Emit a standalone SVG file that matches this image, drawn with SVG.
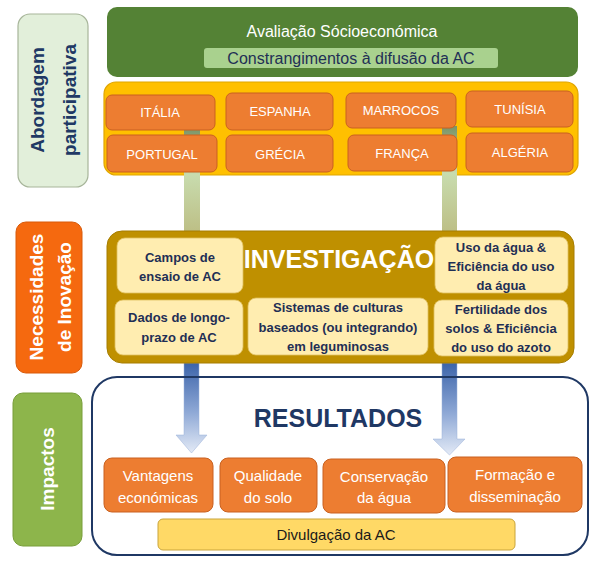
<svg xmlns="http://www.w3.org/2000/svg" width="600" height="566" viewBox="0 0 600 566">
<defs>
<linearGradient id="colG" x1="0" y1="0" x2="0" y2="1">
<stop offset="0" stop-color="#7A9468"/>
<stop offset="0.45" stop-color="#C8DCAE"/>
<stop offset="1" stop-color="#BDBF86"/>
</linearGradient>
<linearGradient id="arrB" x1="0" y1="0" x2="0" y2="1">
<stop offset="0" stop-color="#3C64AA"/>
<stop offset="0.55" stop-color="#8FA9D6"/>
<stop offset="1" stop-color="#E3EAF6"/>
</linearGradient>
<style>
text{font-family:"Liberation Sans","Noto Sans",Arial,sans-serif;text-anchor:middle}
.side{font-weight:bold;font-size:19px}
.cty rect{fill:#ED7D31;stroke:#C96120;stroke-width:1}
.cty text{fill:#fff;font-size:13px}
.inv rect{fill:#FFEDB0;stroke:#E0C060;stroke-width:0.8}
.inv text{fill:#1F2F55;font-size:13px;font-weight:bold}
.res rect{fill:#ED7D31;stroke:#C96120;stroke-width:1}
.res text{fill:#fff;font-size:15px}
</style>
</defs>

<!-- side labels -->
<g id="label-abordagem">
<rect x="18" y="14" width="70" height="173" rx="12" fill="#E2EFDA" stroke="#A7B59A" stroke-width="1.2"/>
<text class="side" fill="#203864" transform="translate(44,100) rotate(-90)">Abordagem</text>
<text class="side" fill="#203864" transform="translate(76,100) rotate(-90)">participativa</text>
</g>
<g id="label-necessidades">
<rect x="16" y="222" width="66" height="151" rx="10" fill="#F5690F" stroke="#D85A0A" stroke-width="1"/>
<text class="side" fill="#fff" transform="translate(43,297) rotate(-90)">Necessidades</text>
<text class="side" fill="#fff" transform="translate(71,297) rotate(-90)">de Inovação</text>
</g>
<g id="label-impactos">
<rect x="13" y="393" width="69" height="153" rx="10" fill="#8DB54B" stroke="#789E3A" stroke-width="1"/>
<text class="side" fill="#fff" transform="translate(54,469) rotate(-90)">Impactos</text>
</g>

<!-- top socio-economic box -->
<g id="avaliacao">
<rect x="107" y="7" width="471" height="70" rx="10" fill="#548235"/>
<text x="342" y="37" fill="#fff" font-size="16">Avaliação Sócioeconómica</text>
<rect x="204" y="48" width="294" height="20" rx="3" fill="#A9D18E"/>
<text x="351" y="64" fill="#1F2F55" font-size="16">Constrangimentos à difusão da AC</text>
</g>

<!-- countries container -->
<g id="paises">
<rect x="104" y="82" width="474" height="93" rx="12" fill="#FFC000" stroke="#E0A500" stroke-width="1.2"/>
</g>

<!-- connectors -->
<g id="connectors">
<rect x="184" y="128" width="16" height="103" fill="url(#colG)"/>
<rect x="442" y="126" width="15" height="105" fill="url(#colG)"/>
<path d="M184,363 H199 V435 H207 L191.5,453 L176,435 H184 Z" fill="url(#arrB)" stroke="#9AB0D8" stroke-width="0.5"/>
<path d="M442,363 H457 V439 H465 L449.5,455 L433,439 H442 Z" fill="url(#arrB)" stroke="#9AB0D8" stroke-width="0.5"/>
</g>

<g id="italia" class="cty"><rect x="106" y="95" width="109" height="35" rx="6"/><text x="160" y="117">ITÁLIA</text></g>
<g id="espanha" class="cty"><rect x="226" y="93" width="107" height="37" rx="6"/><text x="280" y="116">ESPANHA</text></g>
<g id="marrocos" class="cty"><rect x="346" y="93" width="110" height="35" rx="6"/><text x="401" y="115">MARROCOS</text></g>
<g id="tunisia" class="cty"><rect x="466" y="91" width="107" height="36" rx="6"/><text x="520" y="114">TUNÍSIA</text></g>
<g id="portugal" class="cty"><rect x="107" y="135" width="110" height="37" rx="6"/><text x="162" y="159">PORTUGAL</text></g>
<g id="grecia" class="cty"><rect x="226" y="135" width="107" height="37" rx="6"/><text x="280" y="159">GRÉCIA</text></g>
<g id="franca" class="cty"><rect x="348" y="135" width="109" height="36" rx="6"/><text x="402" y="158">FRANÇA</text></g>
<g id="algeria" class="cty"><rect x="466" y="133" width="107" height="39" rx="6"/><text x="520" y="157">ALGÉRIA</text></g>

<!-- investigation -->
<g id="investigacao" class="inv">
<rect x="107" y="231" width="467" height="132" rx="15" style="fill:#BF9000;stroke:#A67D00;stroke-width:1"/>
<text x="339" y="268" style="fill:#fff;font-size:25px;font-weight:bold">INVESTIGAÇÃO</text>
</g>
<g id="campos" class="inv"><rect x="117" y="238" width="126" height="55" rx="8"/><text x="180" y="262">Campos de</text><text x="180" y="281">ensaio de AC</text></g>
<g id="dados" class="inv"><rect x="115" y="300" width="128" height="55" rx="8"/><text x="179" y="322">Dados de longo-</text><text x="179" y="342">prazo de AC</text></g>
<g id="sistemas" class="inv"><rect x="248" y="298" width="180" height="57" rx="8"/><text x="338" y="312">Sistemas de culturas</text><text x="338" y="332">baseados (ou integrando)</text><text x="338" y="351">em leguminosas</text></g>
<g id="uso-agua" class="inv"><rect x="435" y="237" width="133" height="56" rx="8"/><text x="501" y="252">Uso da água &amp;</text><text x="501" y="271">Eficiência do uso</text><text x="501" y="290">da água</text></g>
<g id="fertilidade" class="inv"><rect x="434" y="300" width="134" height="56" rx="8"/><text x="501" y="314">Fertilidade dos</text><text x="501" y="333">solos &amp; Eficiência</text><text x="501" y="352">do uso do azoto</text></g>

<!-- results -->
<g id="resultados">
<rect x="92" y="377" width="496" height="178" rx="25" fill="none" stroke="#1F3864" stroke-width="2"/>
<text x="338" y="427" fill="#1F3864" font-size="25" font-weight="bold">RESULTADOS</text>
</g>
<g id="vantagens" class="res"><rect x="104" y="458" width="109" height="54" rx="8"/><text x="158" y="481">Vantagens</text><text x="158" y="503">económicas</text></g>
<g id="qualidade" class="res"><rect x="220" y="458" width="97" height="54" rx="8"/><text x="268" y="481">Qualidade</text><text x="268" y="503">do solo</text></g>
<g id="conservacao" class="res"><rect x="323" y="459" width="122" height="54" rx="8"/><text x="384" y="482">Conservação</text><text x="384" y="503">da água</text></g>
<g id="formacao" class="res"><rect x="448" y="457" width="134" height="55" rx="8"/><text x="515" y="480">Formação e</text><text x="515" y="502">disseminação</text></g>
<g id="divulgacao">
<rect x="158" y="519" width="357" height="31" rx="5" fill="#FFD966" stroke="#C9A43A" stroke-width="1"/>
<text x="336" y="540" fill="#1A1A1A" font-size="15">Divulgação da AC</text>
</g>
</svg>
